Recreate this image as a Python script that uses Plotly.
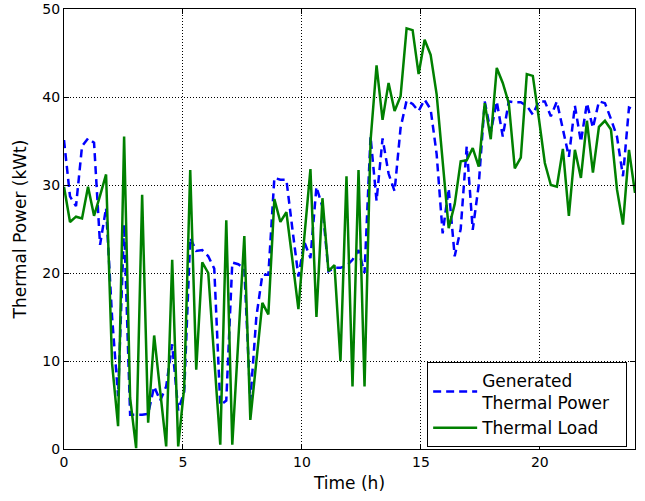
import numpy as np
import plotly.graph_objects as go

# time axis: 96 samples spanning 0..24 h
time_h = np.linspace(0, 24, 96)

generated_power = [
    35.1, 28.7, 27.6, 34.4, 35.3, 34.8, 23.2, 27.4, 15.0, 6.0,
    25.5, 3.9, 3.9, 3.9, 4.0, 7.1, 5.5, 7.1, 11.9, 4.4,
    6.5, 24.0, 22.5, 22.6, 21.9, 20.5, 5.0, 5.5, 21.2, 21.0,
    20.5, 5.5, 15.0, 19.8, 19.8, 30.8, 30.6, 30.6, 25.0, 19.6,
    23.5, 21.7, 29.8, 27.5, 20.2, 20.6, 20.6, 20.8, 21.5, 22.6,
    20.0, 35.5, 28.2, 35.3, 31.3, 29.3, 36.5, 39.6, 39.2, 38.4,
    39.7, 38.6, 33.5, 24.5, 29.6, 21.9, 25.0, 34.4, 24.9, 30.0,
    39.5, 36.0, 39.5, 35.5, 39.5, 39.4, 39.4, 39.0, 38.0, 39.5,
    39.5, 37.8, 39.5, 36.5, 33.2, 39.0, 34.9, 39.3, 36.5, 39.5,
    39.3, 37.5, 35.5, 31.0, 38.8, 38.5,
]

thermal_load = [
    29.8, 25.8, 26.4, 26.2, 29.8, 26.5, 28.8, 31.2, 9.7, 2.6,
    35.5, 5.8, 0.1, 28.9, 3.0, 12.9, 6.6, 0.3, 21.5, 0.3,
    7.0, 31.7, 9.0, 21.2, 20.0, 10.2, 0.5, 26.0, 0.5, 12.4,
    24.2, 3.3, 10.0, 16.6, 15.3, 28.4, 25.8, 26.9, 21.5, 15.9,
    24.2, 31.8, 15.0, 28.5, 20.2, 20.9, 10.0, 31.0, 7.1, 31.7,
    7.1, 35.0, 43.6, 37.4, 41.6, 38.4, 40.1, 47.8, 47.6, 42.6,
    46.5, 44.8, 40.3, 32.5, 25.1, 27.8, 32.7, 32.8, 34.2, 32.1,
    39.3, 35.2, 43.3, 41.6, 39.3, 31.9, 33.1, 42.6, 42.4, 37.6,
    32.5, 30.0, 29.8, 34.1, 26.5, 34.0, 30.8, 37.3, 31.4, 36.6,
    37.3, 36.3, 29.5, 25.5, 34.0, 29.1,
]

x_ticks = [0, 5, 10, 15, 20]
y_ticks = [0, 10, 20, 30, 40, 50]

FONT = "DejaVu Sans"

fig = go.Figure()
fig.add_trace(go.Scatter(
    x=time_h, y=generated_power, mode="lines",
    name="Generated<br>Thermal Power&nbsp;&nbsp;",
    line=dict(color="#0000ff", width=2.5, dash="8px,5px"),
))
fig.add_trace(go.Scatter(
    x=time_h, y=thermal_load, mode="lines",
    name="Thermal Load",
    line=dict(color="#008000", width=2.5),
))

axis_common = dict(
    showline=True, linecolor="black", linewidth=1, mirror="ticks",
    ticks="inside", ticklen=5, tickcolor="black", tickwidth=1,
    showgrid=True, gridcolor="black", gridwidth=1, griddash="1px,2px",
    zeroline=False, automargin=False,
    tickfont=dict(family=FONT, size=14, color="black"),
)

fig.update_xaxes(
    range=[0, 24], tickvals=x_ticks, ticktext=[str(v) for v in x_ticks],
    title=dict(text="Time (h)", font=dict(family=FONT, size=17, color="black"), standoff=8),
    **axis_common,
)
fig.update_yaxes(
    range=[0, 50], tickvals=y_ticks, ticktext=[str(v) for v in y_ticks],
    title=dict(text="Thermal Power (kWt)", font=dict(family=FONT, size=17, color="black"), standoff=11),
    **axis_common,
)

fig.update_layout(
    width=645, height=501,
    margin=dict(l=64, r=10, t=9, b=52),
    paper_bgcolor="white", plot_bgcolor="white",
    font=dict(family=FONT, color="black"),
    showlegend=True,
    legend=dict(
        x=0.636, y=0.198, xanchor="left", yanchor="top",
        bgcolor="white", bordercolor="black", borderwidth=1,
        font=dict(family=FONT, size=17, color="black"),
        tracegroupgap=0, itemwidth=44,
    ),
)

# remove the browser's default 8px body margin so the figure fills the window
fig.write_html(
    "out.html",
    config={"displayModeBar": False},
    post_script="document.body.style.margin='0';",
)
